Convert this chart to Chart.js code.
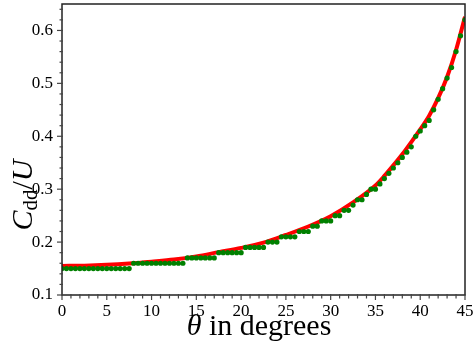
<!DOCTYPE html>
<html><head><meta charset="utf-8">
<script src="https://cdn.jsdelivr.net/npm/chart.js@4/dist/chart.umd.min.js"></script>
<style>html,body{margin:0;padding:0;background:#fff}#wrap{width:473px;height:343px}</style>
</head><body><div id="wrap"><canvas id="c" width="473" height="343"></canvas></div>
<script>
// Red curve
const curveAngles = [0, 2.5, 5, 7.5, 10, 12.5, 15, 17.5, 20, 22.5, 25, 27.5, 30, 32.5, 35, 36, 37, 38, 39, 40, 41, 42, 43, 44, 45];
const curveValues = [0.155, 0.1555, 0.157, 0.1595, 0.163, 0.167, 0.173, 0.181, 0.189, 0.199, 0.2135, 0.2295, 0.249, 0.275, 0.307, 0.325, 0.345, 0.366, 0.389, 0.413, 0.439, 0.472, 0.512, 0.563, 0.626];
// Green dots (every 0.5 degrees)
const dotAngles = [];
for (let i = 0; i <= 90; i++) dotAngles.push(i / 2);
const dotValues = [
  0.15,0.15,0.15,0.15,0.15,0.15,0.15,0.15,0.15,0.15,0.15,0.15,0.15,0.15,0.15,0.15,
  0.16,0.16,0.16,0.16,0.16,0.16,0.16,0.16,0.16,0.16,0.16,0.16,
  0.17,0.17,0.17,0.17,0.17,0.17,0.17,
  0.18,0.18,0.18,0.18,0.18,0.18,
  0.19,0.19,0.19,0.19,0.19,
  0.20,0.20,0.20,
  0.21,0.21,0.21,0.21,
  0.22,0.22,0.22,
  0.23,0.23,
  0.24,0.24,0.24,
  0.25,0.25,
  0.26,0.26,
  0.27,
  0.28,0.28,
  0.29,0.30,0.30,0.31,0.32,0.33,0.34,0.35,0.36,0.37,0.38,0.40,0.41,0.42,0.43,0.45,0.47,0.49,0.51,0.53,0.56,0.59,0.62
];
const xTickValues = [0, 5, 10, 15, 20, 25, 30, 35, 40, 45];
const yTickValues = [0.1, 0.2, 0.3, 0.4, 0.5, 0.6];

const SERIF = '"Liberation Serif", "DejaVu Serif", serif';

function noPad(s) {
  s.paddingTop = 0; s.paddingBottom = 0; s.paddingLeft = 0; s.paddingRight = 0;
}

const decor = {
  id: 'decor',
  afterDraw(chart) {
    const ctx = chart.ctx, a = chart.chartArea;
    const xs = chart.scales.x, ys = chart.scales.y;
    ctx.save();
    ctx.strokeStyle = '#222';
    ctx.lineWidth = 1.5;
    ctx.strokeRect(a.left, a.top, a.right - a.left, a.bottom - a.top);
    ctx.lineWidth = 1.2;
    ctx.strokeStyle = '#444';
    for (let v = 0; v <= 45; v++) {
      const px = xs.getPixelForValue(v);
      const major = v % 5 === 0;
      ctx.beginPath();
      ctx.moveTo(px, a.bottom - 1);
      ctx.lineTo(px, a.bottom + (major ? 5 : 3.5));
      ctx.stroke();
    }
    for (let k = 5; k <= 32; k++) {
      const v = k * 0.02;
      const py = ys.getPixelForValue(v);
      const major = k % 5 === 0;
      ctx.beginPath();
      ctx.moveTo(a.left + 1, py);
      ctx.lineTo(a.left - (major ? 5 : 2.5), py);
      ctx.stroke();
    }
    ctx.fillStyle = '#000';
    ctx.textBaseline = 'alphabetic';
    const fs = 30;
    const p1 = 'θ', p2 = ' in degrees';
    ctx.font = 'italic ' + fs + 'px ' + SERIF;
    const w1 = ctx.measureText(p1).width;
    ctx.font = fs + 'px ' + SERIF;
    const w2 = ctx.measureText(p2).width;
    let x0 = 259 - (w1 + w2) / 2;
    ctx.font = 'italic ' + fs + 'px ' + SERIF;
    ctx.fillText(p1, x0, 335);
    ctx.font = fs + 'px ' + SERIF;
    ctx.fillText(p2, x0 + w1, 335);
    ctx.save();
    ctx.translate(32, 195);
    ctx.rotate(-Math.PI / 2);
    const parts = [
      {t: 'C', f: 'italic ' + fs + 'px ' + SERIF, dy: 0},
      {t: 'dd', f: '21px ' + SERIF, dy: 5},
      {t: '/', f: fs + 'px ' + SERIF, dy: 0},
      {t: 'U', f: 'italic ' + fs + 'px ' + SERIF, dy: 0}
    ];
    let tw = 0;
    parts.forEach(p => { ctx.font = p.f; p.w = ctx.measureText(p.t).width; tw += p.w; });
    let cx = -tw / 2;
    parts.forEach(p => { ctx.font = p.f; ctx.fillText(p.t, cx, p.dy); cx += p.w; });
    ctx.restore();
    ctx.restore();
  }
};

new Chart(document.getElementById('c'), {
  type: 'scatter',
  data: {
    datasets: [
      {
        type: 'scatter',
        data: dotAngles.map((x, i) => ({x, y: dotValues[i]})),
        backgroundColor: '#008000',
        borderColor: '#008000',
        pointRadius: 2.6,
        borderWidth: 0,
        clip: 0,
        order: 0
      },
      {
        type: 'line',
        data: curveAngles.map((x, i) => ({x, y: curveValues[i]})),
        borderColor: '#ff0000',
        borderWidth: 4,
        pointRadius: 0,
        fill: false,
        cubicInterpolationMode: 'monotone',
        clip: 0,
        order: 1
      }
    ]
  },
  options: {
    responsive: false,
    animation: false,
    events: [],
    layout: {padding: {left: 0, right: 8, top: 1, bottom: 0}},
    plugins: {legend: {display: false}, tooltip: {enabled: false}},
    scales: {
      x: {
        type: 'linear', min: 0, max: 45,
        afterBuildTicks: s => { s.ticks = xTickValues.map(v => ({value: v})); },
        afterFit: s => { s.height = 48; noPad(s); },
        grid: {display: false, drawTicks: false},
        border: {display: false},
        ticks: {color: '#000', font: {family: SERIF, size: 17}, padding: 6, maxRotation: 0, callback: v => String(v)}
      },
      y: {
        type: 'linear', min: 0.1, max: 0.65,
        afterBuildTicks: s => { s.ticks = yTickValues.map(v => ({value: v})); },
        afterFit: s => { s.width = 62; noPad(s); },
        grid: {display: false, drawTicks: false},
        border: {display: false},
        ticks: {color: '#000', font: {family: SERIF, size: 17}, padding: 9, callback: v => (Math.round(v * 10) / 10).toFixed(1)}
      }
    }
  },
  plugins: [decor]
});
</script>
</body></html>
